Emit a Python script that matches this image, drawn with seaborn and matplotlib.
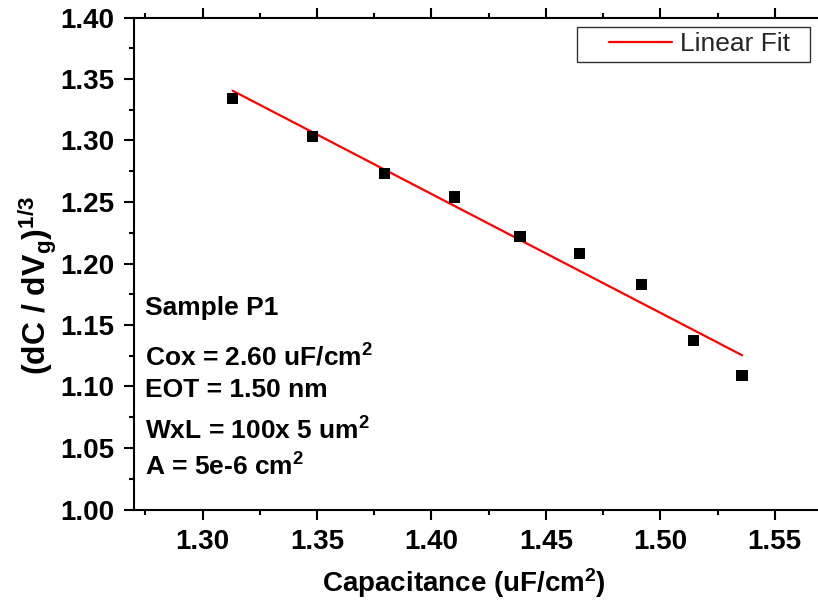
import numpy as np
import pandas as pd
import matplotlib
matplotlib.use("Agg")
import matplotlib.pyplot as plt
from matplotlib.ticker import MultipleLocator
from matplotlib.legend_handler import HandlerLine2D
import seaborn as sns

# Measured points: oxide capacitance vs. (dC/dVg)^(1/3)
capacitance = [1.3132, 1.3482, 1.3795, 1.4100, 1.4387, 1.4646, 1.4916, 1.5144, 1.5357]
dcdv_cuberoot = [1.3340, 1.3029, 1.2732, 1.2541, 1.2216, 1.2081, 1.1832, 1.1371, 1.1089]

x_ticks = [1.30, 1.35, 1.40, 1.45, 1.50, 1.55]
y_ticks = [1.00, 1.05, 1.10, 1.15, 1.20, 1.25, 1.30, 1.35, 1.40]

sample_notes = [
    "Sample P1",
    "Cox = 2.60 uF/cm$^2$",
    "EOT = 1.50 nm",
    "WxL = 100x 5 um$^2$",
    "A = 5e-6 cm$^2$",
]

df = pd.DataFrame({"C": capacitance, "D": dcdv_cuberoot})


class IndentedLineHandler(HandlerLine2D):
    """Legend line that leaves blank space on the left of the handle box."""

    def __init__(self, start_frac=0.3, **kw):
        super().__init__(**kw)
        self.start_frac = start_frac

    def get_xdata(self, legend, xdescent, ydescent, width, height, fontsize):
        xdata = [-xdescent + self.start_frac * width, -xdescent + width]
        return xdata, [-xdescent + 0.5 * width]


sns.set_theme(style="ticks")
plt.rcParams["font.family"] = ["Liberation Sans", "DejaVu Sans"]
plt.rcParams["mathtext.fontset"] = "custom"
plt.rcParams["mathtext.rm"] = "Liberation Sans:bold"
plt.rcParams["mathtext.it"] = "Liberation Sans:bold"
plt.rcParams["mathtext.bf"] = "Liberation Sans:bold"
plt.rcParams["mathtext.sf"] = "Liberation Sans:bold"
plt.rcParams["mathtext.default"] = "rm"

W, H = 818, 605
fig = plt.figure(figsize=(W / 100, H / 100), dpi=100)
ax = fig.add_axes([133.9 / W, 1 - 509.5 / H, (820.5 - 133.9) / W, (509.5 - 17.5) / H])

# least-squares line over the data range
sns.regplot(data=df, x="C", y="D", ax=ax, scatter=False, ci=None, truncate=True,
            line_kws=dict(color="#ff0000", lw=1.6))
fit_line = ax.lines[-1]
fit_line.set_label("Linear Fit  ")

sns.scatterplot(data=df, x="C", y="D", ax=ax, marker="s", s=64, color="black",
                edgecolor="none", zorder=3, legend=False)

ax.set_xlim(1.27, 1.57)
ax.set_ylim(1.00, 1.40)
ax.set_xticks(x_ticks)
ax.set_yticks(y_ticks)
ax.set_xticklabels([f"{v:.2f}" for v in x_ticks])
ax.set_yticklabels([f"{v:.2f}" for v in y_ticks])
ax.xaxis.set_minor_locator(MultipleLocator(0.025))
ax.yaxis.set_minor_locator(MultipleLocator(0.025))
ax.set_xlabel("")
ax.set_ylabel("")

for side in ["left", "right", "top", "bottom"]:
    ax.spines[side].set_visible(True)
    ax.spines[side].set_linewidth(1.5)
    ax.spines[side].set_color("black")

ax.tick_params(which="major", direction="out", length=7.2, width=1.5, color="black",
               top=True, right=True, labelsize=20, pad=7)
ax.tick_params(which="minor", direction="out", length=3.4, width=1.5, color="black",
               top=True, right=True)
for lab in ax.get_xticklabels() + ax.get_yticklabels():
    lab.set_fontweight("bold")
    lab.set_color("black")

fig.text(464 / W, 1 - 592 / H, "Capacitance (uF/cm$^2$)", ha="center", va="baseline",
         fontsize=20, fontweight="bold", color="black")
fig.text(38 / W, 1 - 286 / H, "(dC / dV$_g$)$^{1/3}$", rotation=90, ha="center",
         va="center", fontsize=23, fontweight="bold", color="black")

baselines = [315, 366, 397, 440, 476]
for txt, yb in zip(sample_notes, baselines):
    fig.text(145 / W, 1 - yb / H, txt, ha="left", va="baseline", fontsize=19,
             fontweight="bold", color="black")

leg = ax.legend(handles=[fit_line], loc="upper right",
                bbox_to_anchor=(810 / W, 1 - 27 / H),
                bbox_transform=fig.transFigure, fontsize=19, frameon=True,
                fancybox=False, framealpha=1, edgecolor="#333333",
                handlelength=3.4, handletextpad=0.3, borderpad=0.2, borderaxespad=0,
                handler_map={fit_line: IndentedLineHandler(start_frac=0.3)})
leg.get_frame().set_linewidth(1.0)

fig.savefig("out.png", dpi=100)
